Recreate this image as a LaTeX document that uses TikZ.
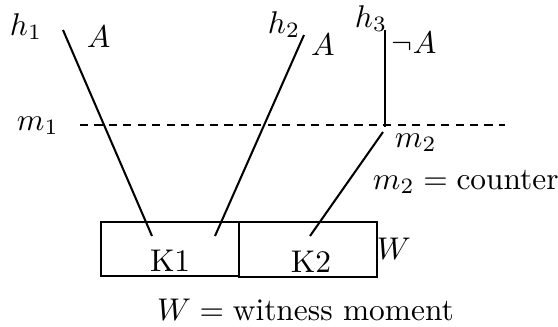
\documentclass[tikz,border=0pt]{standalone}
\begin{document}
\begin{tikzpicture}[x=0.3185pt,y=-0.3185pt,
  lab/.style={anchor=base west,inner sep=0pt,outer sep=0pt},
  ln/.style={line width=0.65pt},
  boxed/.style={draw,line width=0.8pt,inner sep=0pt,minimum width=43.95pt,minimum height=17.2pt},
  dsh/.style={line width=0.6pt,dash pattern=on 2.6pt off 2pt}]
\useasboundingbox (0,0) rectangle (558,327);
% boxes
\node[boxed] (b1) at (170,249) {};
\node[boxed,minimum height=17.5pt] (b2) at (308,249.5) {};
\node[lab] (k1) at (150,271) {K1};
\node[lab] (k2) at (291,272) {K2};
% labels
\node[lab] (h1) at (10,35) {$h_1$};
\node[lab] (a1) at (87,47) {$A$};
\node[lab] (m1) at (17,130) {$m_1$};
\node[lab] (h2) at (268,33) {$h_2$};
\node[lab] (a2) at (311,55) {$A$};
\node[lab] (h3) at (355,27) {$h_3$};
\node[lab] (na) at (392,53) {$\neg A$};
\node[lab] (m2) at (395,147) {$m_2$};
\node[lab] (cnt) at (373,189) {$m_2 = \mbox{counter}$};
\node[lab] (w) at (377,259) {$W$};
\node[lab] (wm) at (157,320) {$W = \mbox{witness moment}$};
% coordinates
\coordinate (p1) at (63,30);
\coordinate (q1) at (152,236);
\coordinate (p2) at (304,35);
\coordinate (q2) at (215,236);
\coordinate (p3) at (385,30);
\coordinate (q3) at (385,127);
\coordinate (p4) at (383,132);
\coordinate (q4) at (310,236);
\coordinate (d1) at (80,125);
\coordinate (d2) at (505,125);
% lines
\draw[dsh] (d1) -- (d2);
\draw[ln] (p1) -- (q1);
\draw[ln] (p2) -- (q2);
\draw[line width=0.8pt] (p3) -- (q3);
\draw[ln] (p4) -- (q4);
\end{tikzpicture}
\end{document}
